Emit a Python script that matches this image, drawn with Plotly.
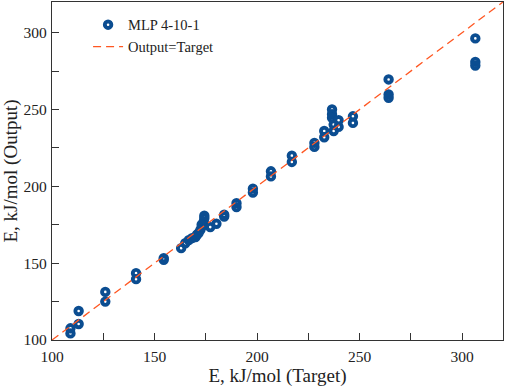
import plotly.graph_objects as go

target = [109, 109, 113, 113, 126, 126, 141, 141, 154.5, 154.5,
          163, 165, 166.7, 168.3, 170, 170.7, 171.5, 172.4, 173.2, 174,
          174.3, 174.3, 173, 177.2, 180.2, 184, 184, 190, 190, 198,
          198, 206.8, 206.8, 217, 217, 228, 228, 232.8, 232.8, 236.6,
          236.6, 236.6, 237.4, 237.4, 239.8, 239.8, 246.8, 246.8, 264.2, 264.2,
          264.2, 306.5, 306.5, 306.5]
output = [104.3, 107.6, 118.9, 110.4, 131.3, 125, 143.5, 139.6, 153.3, 152.2,
          159.8, 163, 165, 166.3, 167, 168.5, 169.6, 171.7, 174, 177,
          179.3, 180.9, 175, 173.5, 175.7, 180.4, 181.5, 189, 186.5, 198.5,
          196, 209.8, 206.5, 220, 215.9, 228.3, 225.7, 236, 232, 250,
          247, 244.6, 240.2, 236, 243, 238.7, 245.6, 241.3, 269.6, 259.8,
          257.6, 296.3, 281, 278.7]
line_x = [100, 320]
x_ticks = [100, 150, 200, 250, 300]

blue = "#0b4d91"
orange = "#ff5722"
font_family = "Liberation Serif"

fig = go.Figure()
fig.add_trace(go.Scatter(
    x=target, y=output, mode="markers", name="MLP 4-10-1",
    marker=dict(symbol="circle-open", size=6.5, color=blue,
                line=dict(color=blue, width=3.9)),
))
fig.add_trace(go.Scatter(
    x=line_x, y=line_x, mode="lines", name="Output=Target",
    line=dict(color=orange, width=1.3, dash="8px,5px"),
))

axis_common = dict(
    range=[100, 320], showgrid=False, zeroline=False, automargin=False,
    showline=True, linecolor="#333333", linewidth=1.2, mirror=True,
    ticks="inside", ticklen=7, tickwidth=1, tickcolor="#333333",
    tickvals=x_ticks, tickfont=dict(family=font_family, size=15.5, color="#222222"),
    minor=dict(ticks="inside", ticklen=7, tickwidth=1, tickcolor="#333333", dtick=25, tick0=0),
)

fig.update_layout(
    width=505, height=389,
    margin=dict(l=52, r=2, t=2, b=49),
    paper_bgcolor="white", plot_bgcolor="white",
    font=dict(family=font_family, color="#222222"),
    xaxis=dict(axis_common, ticklabelstandoff=2,
               title=dict(text="E, kJ/mol (Target)", font=dict(size=19), standoff=2)),
    yaxis=dict(axis_common, ticklabelstandoff=1,
               title=dict(text="E, kJ/mol (Output)", font=dict(size=19), standoff=3)),
    showlegend=True,
    legend=dict(x=0.08, y=0.98, xanchor="left", yanchor="top",
                bgcolor="rgba(0,0,0,0)", font=dict(family=font_family, size=14.5),
                itemwidth=30, tracegroupgap=0),
)

fig.write_html("out.html", config={"displayModeBar": False},
               post_script="document.body.style.margin='0';document.body.style.overflow='hidden';")
